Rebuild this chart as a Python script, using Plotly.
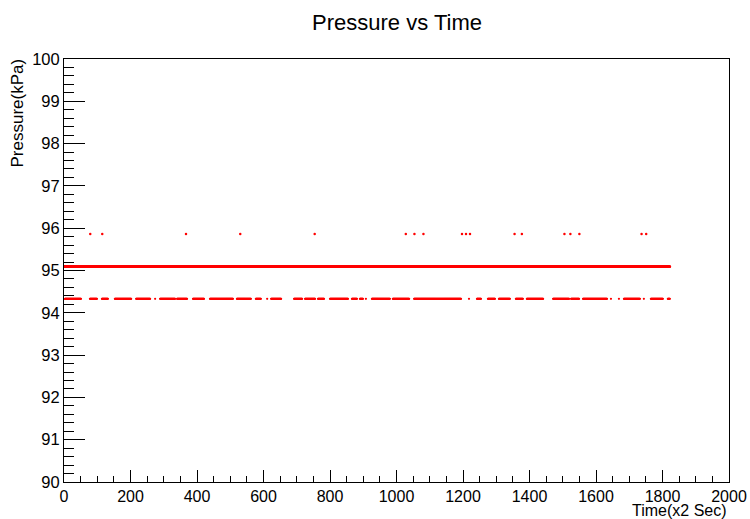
import plotly.graph_objects as go

# ---- data ----
t_end = 1822                      # last time index of the record
main_pressure = 95.09             # the dominant pressure level (kPa)
low_pressure = 94.33              # lower quantised level
high_pressure = 95.86             # upper quantised level

# runs of time (x2 sec) where the reading sat at the lower level
low_runs = [
    (3, 51), (78, 99), (114, 132), (153, 202), (217, 259), (274, 274),
    (289, 334), (340, 370), (388, 421), (439, 508), (520, 562), (577, 592),
    (611, 611), (623, 653), (692, 716), (725, 755), (764, 782), (800, 854),
    (866, 881), (890, 899), (908, 908), (926, 980), (989, 1038), (1053, 1194),
    (1218, 1218), (1242, 1254), (1275, 1296), (1308, 1341), (1359, 1380),
    (1392, 1441), (1471, 1519), (1525, 1549), (1561, 1633), (1645, 1645),
    (1669, 1669), (1684, 1732), (1744, 1744), (1765, 1801), (1816, 1822),
]
# isolated times where the reading jumped to the upper level
high_times = [79, 115, 367, 530, 754, 1028, 1054, 1081, 1197, 1209, 1221,
              1355, 1377, 1505, 1523, 1550, 1737, 1751]

x_ticks = [0, 200, 400, 600, 800, 1000, 1200, 1400, 1600, 1800, 2000]
y_ticks = [90, 91, 92, 93, 94, 95, 96, 97, 98, 99, 100]

# ---- build series ----
main_t = list(range(0, t_end + 1))
main_y = [main_pressure] * len(main_t)
low_t = [t for a, b in low_runs for t in range(a, b + 1)]
low_y = [low_pressure] * len(low_t)
high_y = [high_pressure] * len(high_times)

RED = "#ff0000"
FONT = "Liberation Sans, Arial, Helvetica, sans-serif"

fig = go.Figure()
fig.add_trace(go.Scatter(x=main_t, y=main_y, mode="markers",
                         marker=dict(color=RED, size=2.7, line=dict(width=0)),
                         showlegend=False, hoverinfo="x+y"))
fig.add_trace(go.Scatter(x=low_t, y=low_y, mode="markers",
                         marker=dict(color=RED, size=2.2, line=dict(width=0)),
                         showlegend=False, hoverinfo="x+y"))
fig.add_trace(go.Scatter(x=high_times, y=high_y, mode="markers",
                         marker=dict(color=RED, size=2.5, line=dict(width=0)),
                         showlegend=False, hoverinfo="x+y"))

L, R, T, B = 64, 21, 59, 37
W, H = 750, 519
pw, ph = W - L - R, H - T - B

fig.update_layout(
    width=W, height=H,
    margin=dict(l=L, r=R, t=T, b=B, autoexpand=False),
    paper_bgcolor="white", plot_bgcolor="white",
    font=dict(family=FONT, color="black", size=16),
    title=dict(text="Pressure vs Time", x=397 / W, xanchor="center",
               y=1 - 22 / H, yanchor="middle", xref="container",
               font=dict(size=22, family=FONT, color="black")),
    xaxis=dict(range=[0, 2000], tickvals=x_ticks, ticktext=[str(v) for v in x_ticks],
               automargin=False,
               showgrid=False, zeroline=False, showline=True, linecolor="black",
               linewidth=1, mirror=True, ticks="inside", ticklen=12, tickcolor="black",
               tickwidth=1,
               minor=dict(ticks="inside", ticklen=6, dtick=50, tickcolor="black",
                          showgrid=False),
               tickfont=dict(size=16, family=FONT, color="black")),
    yaxis=dict(range=[90, 100], tickvals=y_ticks, ticktext=[str(v) for v in y_ticks],
               automargin=False,
               showgrid=False, zeroline=False, showline=True, linecolor="black",
               linewidth=1, mirror=True, ticks="inside", ticklen=21, tickcolor="black",
               tickwidth=1,
               minor=dict(ticks="inside", ticklen=10, dtick=0.2, tickcolor="black",
                          showgrid=False),
               tickfont=dict(size=16.5, family=FONT, color="black")),
    annotations=[
        dict(text="Pressure(kPa)", textangle=-90, xref="paper", yref="paper",
             x=(17 - L) / pw, y=1 + (T - 57) / ph, xanchor="center", yanchor="top",
             showarrow=False, font=dict(size=17, family=FONT, color="black")),
        dict(text="Time(x2 Sec)", xref="paper", yref="paper",
             x=1, y=-(510 - (H - B)) / ph, xanchor="right", yanchor="middle",
             showarrow=False, font=dict(size=16, family=FONT, color="black")),
    ],
)

fig.write_html("out.html")
